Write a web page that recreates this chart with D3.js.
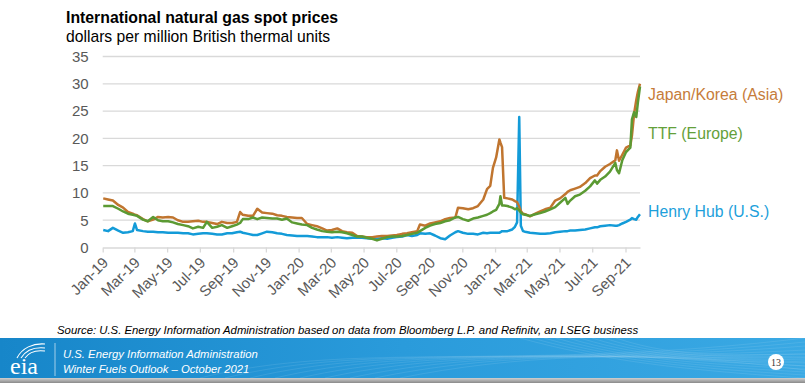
<!DOCTYPE html>
<html><head><meta charset="utf-8">
<script src="https://cdn.jsdelivr.net/npm/d3@7"></script>
<style>html,body{margin:0;padding:0;background:#fff;}svg{display:block;}</style>
</head><body>
<svg id="chart" width="805" height="383"></svg>
<script>
const dates = ["2019-01-02","2019-01-11","2019-01-20","2019-01-30","2019-02-08","2019-02-17","2019-02-26","2019-03-02","2019-03-06","2019-03-17","2019-03-26","2019-04-05","2019-04-14","2019-04-23","2019-05-03","2019-05-12","2019-05-21","2019-05-31","2019-06-09","2019-06-18","2019-06-28","2019-07-07","2019-07-14","2019-07-24","2019-08-02","2019-08-11","2019-08-21","2019-08-30","2019-09-08","2019-09-14","2019-09-19","2019-09-29","2019-10-08","2019-10-16","2019-10-25","2019-11-03","2019-11-13","2019-11-22","2019-12-01","2019-12-10","2019-12-20","2019-12-29","2020-01-07","2020-01-17","2020-01-26","2020-02-04","2020-02-14","2020-02-23","2020-03-03","2020-03-13","2020-03-22","2020-03-31","2020-04-10","2020-04-19","2020-04-28","2020-05-07","2020-05-17","2020-05-26","2020-06-04","2020-06-14","2020-06-23","2020-07-02","2020-07-12","2020-07-21","2020-07-30","2020-08-09","2020-08-14","2020-08-24","2020-09-02","2020-09-11","2020-09-21","2020-09-30","2020-10-09","2020-10-19","2020-10-24","2020-11-02","2020-11-12","2020-11-21","2020-11-30","2020-12-10","2020-12-17","2020-12-23","2020-12-28","2021-01-03","2021-01-09","2021-01-11","2021-01-14","2021-01-18","2021-01-24","2021-02-02","2021-02-07","2021-02-11","2021-02-15","2021-02-18","2021-02-22","2021-02-26","2021-03-07","2021-03-17","2021-03-26","2021-04-04","2021-04-14","2021-04-23","2021-05-02","2021-05-12","2021-05-16","2021-05-21","2021-05-30","2021-06-08","2021-06-18","2021-06-27","2021-07-06","2021-07-10","2021-07-16","2021-07-25","2021-08-03","2021-08-13","2021-08-16","2021-08-20","2021-08-26","2021-09-02","2021-09-10","2021-09-13","2021-09-17","2021-09-21","2021-09-24","2021-09-28"];

const japanKorea = [9.0,8.8,8.6,7.8,7.3,6.5,6.2,6.0,5.9,5.2,4.8,5.1,5.6,5.5,5.6,5.5,5.0,4.7,4.7,4.8,4.9,4.7,4.7,4.5,4.3,4.7,4.5,4.5,4.7,6.5,6.0,5.8,5.8,7.1,6.4,6.3,6.2,5.9,5.8,5.6,5.5,5.4,5.4,4.3,4.1,3.9,3.5,3.1,3.2,3.5,3.0,2.8,2.7,2.1,2.0,1.9,1.9,2.0,2.1,2.1,2.2,2.3,2.5,2.6,2.8,3.0,4.2,4.0,4.4,4.6,4.8,5.2,5.4,5.5,7.3,7.2,7.0,7.2,7.6,8.8,10.7,11.3,14.6,16.5,19.8,19.2,18.4,9.1,9.0,8.8,8.5,8.3,7.5,6.7,6.2,6.1,5.7,6.2,6.6,7.0,7.3,8.6,9.0,9.8,10.2,10.5,10.8,11.1,11.8,12.7,13.2,13.2,14.0,14.8,15.3,16.0,17.8,15.9,17.0,18.3,18.7,20.5,24.5,27.0,28.5,30.0];

const ttf = [7.6,7.6,7.6,7.1,6.6,6.2,6.0,5.9,5.8,5.1,4.8,5.6,5.0,4.8,4.8,4.6,4.3,4.1,3.9,3.5,3.8,3.6,4.7,3.6,3.8,4.1,3.6,3.9,4.2,4.5,5.2,5.2,5.5,5.2,5.5,5.4,5.3,5.3,5.1,5.3,4.6,4.4,4.2,4.1,3.6,3.3,3.0,2.9,2.8,2.9,2.8,2.6,2.3,2.0,2.0,1.8,1.6,1.3,1.6,1.9,2.0,2.0,2.1,2.3,2.5,2.7,3.0,3.6,4.0,4.3,4.5,4.8,5.0,5.5,5.6,5.2,4.9,5.3,5.5,5.8,6.0,6.3,6.6,6.9,8.0,9.4,7.7,7.7,7.6,7.3,7.0,7.2,6.8,6.4,6.1,6.0,5.8,6.1,6.3,6.6,7.0,7.4,8.2,9.1,8.0,8.6,9.4,9.7,10.4,11.2,12.3,11.7,12.4,13.0,13.9,15.5,14.2,13.6,16.0,17.5,18.3,23.5,24.8,23.9,26.5,29.5];

const henryHub = [3.2,3.0,3.6,3.1,2.7,2.8,3.0,4.4,3.2,3.0,2.9,2.9,2.8,2.8,2.7,2.7,2.7,2.6,2.6,2.4,2.5,2.6,2.6,2.5,2.4,2.4,2.6,2.6,2.8,2.9,2.7,2.5,2.3,2.3,2.6,2.9,2.8,2.6,2.5,2.3,2.2,2.1,2.1,2.1,2.0,1.9,1.9,1.9,1.8,1.9,1.8,1.7,1.8,1.8,1.8,1.7,1.6,1.6,1.7,1.6,1.8,1.9,2.0,2.3,2.1,2.3,2.6,2.5,2.6,2.2,1.7,1.5,2.2,2.8,3.0,2.7,2.5,2.5,2.4,2.7,2.6,2.7,2.7,2.7,2.7,2.8,3.0,3.0,3.0,3.3,3.8,4.6,23.9,4.0,3.0,2.9,2.7,2.6,2.5,2.5,2.6,2.8,2.9,3.0,3.0,3.1,3.1,3.2,3.3,3.5,3.7,3.7,3.9,4.0,4.1,4.0,4.0,4.1,4.4,4.7,5.1,5.4,5.2,5.1,5.6,6.1];

const yTickValues = [0,5,10,15,20,25,30,35];
const seriesNames = ["Japan/Korea (Asia)","TTF (Europe)","Henry Hub (U.S.)"];
const seriesColors = ["#c0752f","#5b9a33","#139bd8"];
const labelColors = ["#c67c3a","#64a03a","#1d9fdb"];

const svg = d3.select("#chart");
const parse = d3.timeParse("%Y-%m-%d");
const dd = dates.map(parse);
const FONT = "Liberation Sans, Arial, sans-serif";

const x = d3.scaleTime().domain([parse("2019-01-01"), parse("2021-09-28")]).range([102.7, 640]);
const y = d3.scaleLinear().domain([0,35]).range([247.5, 56.5]);

// title
svg.append("text").attr("x",66).attr("y",23).attr("font-family",FONT)
  .attr("font-weight","bold").attr("font-size",15.8).attr("fill","#000").text("International natural gas spot prices");
svg.append("text").attr("x",66).attr("y",42).attr("font-family",FONT)
  .attr("font-size",15.7).attr("fill","#000").text("dollars per million British thermal units");

// gridlines
svg.append("g").selectAll("line").data(yTickValues.filter(v=>v>0)).join("line")
  .attr("x1",102.7).attr("x2",640).attr("y1",d=>y(d)).attr("y2",d=>y(d))
  .attr("stroke","#d9d9d9").attr("stroke-width",1.3);

// y axis labels
const yAxis = d3.axisLeft(y).tickValues(yTickValues).tickSize(0).tickPadding(14);
const gy = svg.append("g").attr("transform","translate(102.7,0)").call(yAxis);
gy.select(".domain").remove();
gy.selectAll("text").attr("font-family",FONT).attr("font-size",15).attr("fill","#595959");

// x axis
const xAxis = d3.axisBottom(x).ticks(d3.timeMonth.every(2)).tickFormat(d3.timeFormat("%b-%y")).tickSize(5).tickSizeOuter(0);
const gx = svg.append("g").attr("transform",`translate(0,${y(0)})`).call(xAxis);
gx.select(".domain").attr("stroke","#d9d9d9").attr("stroke-width",1.3);
gx.selectAll(".tick line").attr("stroke","#d9d9d9").attr("stroke-width",1.3);
gx.selectAll("text").attr("font-family",FONT).attr("font-size",15).attr("fill","#595959")
  .attr("text-anchor","end").attr("dy",null).attr("y",0)
  .attr("transform","translate(6,16) rotate(-45)");

// lines
const allSeries = [japanKorea, ttf, henryHub];
const line = d3.line().x((d,i)=>x(dd[i])).y(d=>y(d));
[henryHub, japanKorea, ttf].forEach(s=>{
  const k = allSeries.indexOf(s);
  svg.append("path").datum(s).attr("d",line).attr("fill","none")
    .attr("stroke",seriesColors[k]).attr("stroke-width",2.5).attr("stroke-linejoin","round");
});

// legend labels
const labelY = [100, 138.5, 217];
seriesNames.forEach((n,i)=>{
  svg.append("text").attr("x",648).attr("y",labelY[i]).attr("font-family",FONT)
    .attr("font-size",15.8).attr("fill",labelColors[i]).text(n);
});

// source
svg.append("text").attr("x",57).attr("y",334).attr("font-family",FONT)
  .attr("font-style","italic").attr("font-size",11.35).attr("fill","#000")
  .text("Source: U.S. Energy Information Administration based on data from Bloomberg L.P. and Refinitv, an LSEG business");

// footer banner
const defs = svg.append("defs");
const g1 = defs.append("linearGradient").attr("id","ban").attr("x1","0").attr("x2","1").attr("y1","0").attr("y2","0");
g1.append("stop").attr("offset","0").attr("stop-color","#1786c9");
g1.append("stop").attr("offset","0.5").attr("stop-color","#2a9bdb");
g1.append("stop").attr("offset","1").attr("stop-color","#3aa9e4");
const g2 = defs.append("linearGradient").attr("id","gry").attr("x1","0").attr("x2","0").attr("y1","0").attr("y2","1");
g2.append("stop").attr("offset","0").attr("stop-color","#d0d0d0");
g2.append("stop").attr("offset","1").attr("stop-color","#8a8a8a");
svg.append("rect").attr("x",0).attr("y",338).attr("width",805).attr("height",40).attr("fill","url(#ban)");
svg.append("rect").attr("x",0).attr("y",378).attr("width",805).attr("height",5).attr("fill","url(#gry)");
const waves = svg.append("g").attr("fill","none").attr("stroke","#ffffff").attr("stroke-opacity",0.12).attr("stroke-width",0.8);
for (let k=0;k<9;k++){
  waves.append("path").attr("d",`M ${200+k*25} 378 C ${350+k*20} ${340+k*2}, ${520+k*15} ${372-k*3}, ${805} ${338+k*4}`);
  waves.append("path").attr("d",`M ${520+k*12} 338 C ${600+k*10} ${360}, ${680+k*8} ${370-k*2}, ${805} ${378-k*3}`);
}
// eia logo
svg.append("text").attr("x",10).attr("y",374).attr("font-family","Liberation Serif, serif").attr("font-size",24)
  .attr("fill","#fff").text("eia");
const arcs = svg.append("g").attr("fill","none").attr("stroke","#fff").attr("stroke-width",1.1);
arcs.append("path").attr("d","M 17 358 C 22 348, 33 343, 45 344");
arcs.append("path").attr("d","M 21 358 C 26 350, 35 347, 45 348");
arcs.append("path").attr("d","M 25 358 C 29 352, 37 350, 45 351");
svg.append("line").attr("x1",55).attr("x2",55).attr("y1",343).attr("y2",376).attr("stroke","#ffffff").attr("stroke-opacity",0.6);
svg.append("text").attr("x",63).attr("y",358).attr("font-family",FONT).attr("font-style","italic")
  .attr("font-size",11.3).attr("fill","#fff").text("U.S. Energy Information Administration");
svg.append("text").attr("x",63).attr("y",373).attr("font-family",FONT).attr("font-style","italic")
  .attr("font-size",11.3).attr("fill","#fff").text("Winter Fuels Outlook – October 2021");
svg.append("circle").attr("cx",776).attr("cy",362).attr("r",8).attr("fill","#fff");
svg.append("text").attr("x",776).attr("y",365.5).attr("text-anchor","middle").attr("font-family","Liberation Serif, serif")
  .attr("font-size",10).attr("fill","#333").text("13");
</script>
</body></html>
